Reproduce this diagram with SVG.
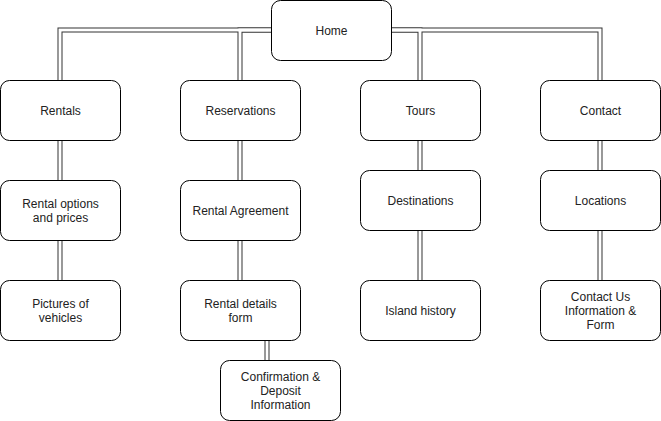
<svg xmlns="http://www.w3.org/2000/svg" width="661" height="421" viewBox="0 0 661 421">
<style>
.box{fill:#fff;stroke:#000;stroke-width:1}
.t{font-family:"Liberation Sans",Arial,sans-serif;font-size:12px;fill:#222;text-anchor:middle;dominant-baseline:central}
.outer{fill:none;stroke:#333;stroke-width:5}
.inner{fill:none;stroke:#fff;stroke-width:3}
</style>
<rect width="661" height="421" fill="#fff"/>
<defs>
<path id="e1" d="M271.5,30 H60 V80"/>
<path id="e2" d="M271.5,30 H240 V80"/>
<path id="e3" d="M391.5,30 H420 V80"/>
<path id="e4" d="M391.5,30 H600 V80"/>
<path id="e5" d="M60,140 V180"/>
<path id="e6" d="M60,240 V280"/>
<path id="e7" d="M240,140 V180"/>
<path id="e8" d="M240,240 V280"/>
<path id="e9" d="M267,340 V360"/>
<path id="e10" d="M420,140 V170"/>
<path id="e11" d="M420,230 V280"/>
<path id="e12" d="M600,140 V170"/>
<path id="e13" d="M600,230 V280"/>
</defs>
<g id="connectors">
<g class="outer">
<use href="#e1"/><use href="#e2"/><use href="#e3"/><use href="#e4"/><use href="#e5"/><use href="#e6"/><use href="#e7"/><use href="#e8"/><use href="#e9"/><use href="#e10"/><use href="#e11"/><use href="#e12"/><use href="#e13"/>
</g>
<g class="inner">
<use href="#e1"/><use href="#e2"/><use href="#e3"/><use href="#e4"/><use href="#e5"/><use href="#e6"/><use href="#e7"/><use href="#e8"/><use href="#e9"/><use href="#e10"/><use href="#e11"/><use href="#e12"/><use href="#e13"/>
</g>
</g>
<g id="home"><rect class="box" x="271.5" y="0.5" width="120" height="60" rx="9"/><text class="t" x="331.5" y="30.5">Home</text></g>
<g id="rentals"><rect class="box" x="0.5" y="80.5" width="120" height="60" rx="9"/><text class="t" x="60.5" y="110.5">Rentals</text></g>
<g id="reservations"><rect class="box" x="180.5" y="80.5" width="120" height="60" rx="9"/><text class="t" x="240.5" y="110.5">Reservations</text></g>
<g id="tours"><rect class="box" x="360.5" y="80.5" width="120" height="60" rx="9"/><text class="t" x="420.5" y="110.5">Tours</text></g>
<g id="contact"><rect class="box" x="540.5" y="80.5" width="120" height="60" rx="9"/><text class="t" x="600.5" y="110.5">Contact</text></g>
<g id="rental-options"><rect class="box" x="0.5" y="180.5" width="120" height="60" rx="9"/><text class="t" x="60.5" y="203.5">Rental options</text><text class="t" x="60.5" y="217.5">and prices</text></g>
<g id="rental-agreement"><rect class="box" x="180.5" y="180.5" width="120" height="60" rx="9"/><text class="t" x="240.5" y="210.5">Rental Agreement</text></g>
<g id="destinations"><rect class="box" x="360.5" y="170.5" width="120" height="60" rx="9"/><text class="t" x="420.5" y="200.5">Destinations</text></g>
<g id="locations"><rect class="box" x="540.5" y="170.5" width="120" height="60" rx="9"/><text class="t" x="600.5" y="200.5">Locations</text></g>
<g id="pictures"><rect class="box" x="0.5" y="280.5" width="120" height="60" rx="9"/><text class="t" x="60.5" y="303.5">Pictures of</text><text class="t" x="60.5" y="317.5">vehicles</text></g>
<g id="rental-details"><rect class="box" x="180.5" y="280.5" width="120" height="60" rx="9"/><text class="t" x="240.5" y="303.5">Rental details</text><text class="t" x="240.5" y="317.5">form</text></g>
<g id="island-history"><rect class="box" x="360.5" y="280.5" width="120" height="60" rx="9"/><text class="t" x="420.5" y="310.5">Island history</text></g>
<g id="contact-us"><rect class="box" x="540.5" y="280.5" width="120" height="60" rx="9"/><text class="t" x="600.5" y="296.5">Contact Us</text><text class="t" x="600.5" y="310.5">Information &amp;</text><text class="t" x="600.5" y="324.5">Form</text></g>
<g id="confirmation"><rect class="box" x="220.5" y="360.5" width="120" height="60" rx="9"/><text class="t" x="280.5" y="376.5">Confirmation &amp;</text><text class="t" x="280.5" y="390.5">Deposit</text><text class="t" x="280.5" y="404.5">Information</text></g>
</svg>
